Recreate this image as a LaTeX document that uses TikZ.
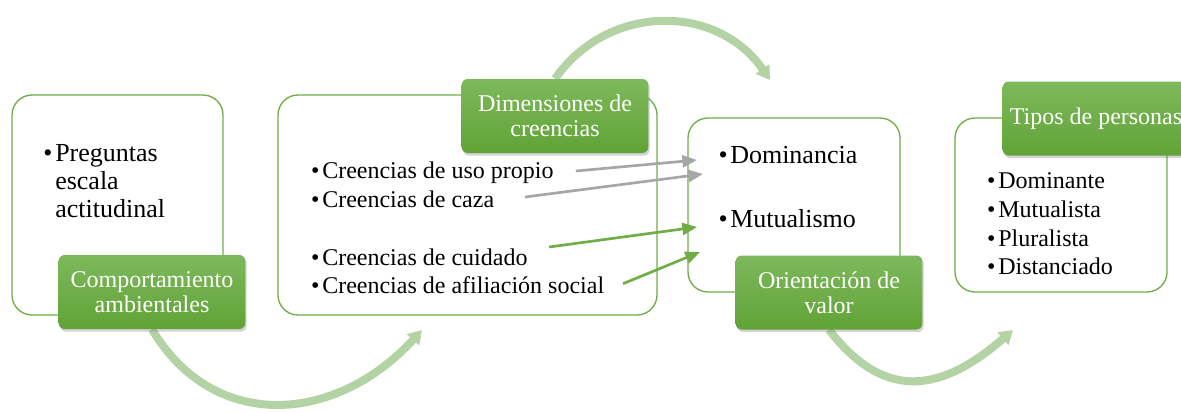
\documentclass[tikz,border=0pt]{standalone}
\usepackage{fontspec}
\setmainfont{Liberation Serif}
\usepackage{xcolor}
\usetikzlibrary{arrows.meta,shadows,backgrounds,positioning}
\definecolor{boxgreen}{HTML}{70AD47}
\definecolor{labtop}{HTML}{7DB95C}
\definecolor{labbot}{HTML}{61A336}
\definecolor{turngreen}{HTML}{B3D3A4}
\definecolor{arrgray}{HTML}{A6A6A6}
\tikzset{
	>=latex,
	every node/.append style={scale=1}
}
\newcommand{\itm}{\llap{\textbullet\kern2pt}}

\begin{document}
\begin{tikzpicture}[x=0.75pt,y=-0.75pt]
    \tikzset{box/.style={draw=boxgreen, line width=1pt, fill=white, rectangle, rounded corners=15pt, minimum width=159pt, minimum height=130.5pt},
      lblock/.style={rectangle, rounded corners=4.5pt, top color=labtop, bottom color=labbot, text=white, align=center,
        minimum width=140pt, minimum height=55.5pt, font=\fontsize{18}{18.75}\selectfont,
        drop shadow={opacity=0.35, shadow xshift=1pt, shadow yshift=-2pt}},
      txt/.style={anchor=base west, inner sep=0pt, font=\fontsize{18}{21}\selectfont},
      bigtxt/.style={txt, font=\fontsize{19.5}{21}\selectfont},
      turn/.style={line width=6pt, draw=turngreen, -{Triangle[length=10pt,width=12pt]},
        preaction={draw=black, draw opacity=0.1, arrows=-, shorten >=8pt, transform canvas={shift={(2,3)}}}},
      grayline/.style={draw=arrgray, line width=2pt, -{Triangle[length=11pt,width=9pt]}},
      greenline/.style={draw=boxgreen, line width=2pt, -{Triangle[length=11pt,width=9pt]}},
    }
    \useasboundingbox (0,0) rectangle (1181,412);

    % cajas
    \node[box, minimum width=158.25pt, minimum height=165pt] at (117.5,205) (comp) {};
    \node[box, minimum width=284.25pt, minimum height=165pt] at (467.5,205) (dim) {};
    \node[box] at (794,205) (ori) {};
    \node[box] at (1061,205) (tipos) {};

    \node[lblock] at (152,292) (complab) {Comportamiento\\ambientales};
    \node[lblock] at (555,116) (dimlab) {Dimensiones de\\creencias};
    \node[lblock] at (829,292.5) (orilab) {Orientación de\\valor};
    \node[lblock] at (1096,118.5) (tiposlab) {Tipos de personas};

    % base = ultima linea
    \node[bigtxt, align=left] at (55,217) (preg) {\itm Preguntas\\escala\\actitudinal};

    \node[txt] at (322,178) (uso) {\itm Creencias de uso propio};
    \node[txt] at (322,207) (caza) {\itm Creencias de caza};
    \node[txt] at (322,265) (cuid) {\itm Creencias de cuidado};
    \node[txt] at (322,293) (afil) {\itm Creencias de afiliación social};

    \node[bigtxt] at (730,163) (domi) {\itm Dominancia};
    \node[bigtxt] at (730,227) (mutu) {\itm Mutualismo};

    \node[txt] at (998,188) (domin) {\itm Dominante};
    \node[txt] at (998,217) (mutua) {\itm Mutualista};
    \node[txt] at (998,246) (plur) {\itm Pluralista};
    \node[txt] at (998,274) (dist) {\itm Distanciado};

    \coordinate (t1) at (697,160);
    \coordinate (t2) at (703,174);
    \coordinate (t3) at (697,227);
    \coordinate (t4) at (700,252);
    \path[grayline] ([xshift=16.5pt,yshift=5.25pt]uso.base east) -- (t1);
    \path[grayline] ([xshift=23pt,yshift=7.5pt]caza.base east) -- (t2);
    \path[greenline] ([xshift=16pt,yshift=13.5pt]cuid.base east) -- (t3);
    \path[greenline] ([xshift=14pt,yshift=7pt]afil.base east) -- (t4);

    % flechas curvas
    \coordinate (c1) at (422,330);
    \coordinate (c2) at (770,80);
    \coordinate (c3) at (1013,330);
    \begin{scope}[on background layer]
      \draw[turn] (complab.south) .. controls (213,432) and (335,425) .. (c1);
      \draw[turn] (dimlab.north) .. controls (608,3) and (717,3) .. (c2);
      \draw[turn] (orilab.south) .. controls (881,397) and (936,397) .. (c3);
    \end{scope}
  \end{tikzpicture}
\end{document}
